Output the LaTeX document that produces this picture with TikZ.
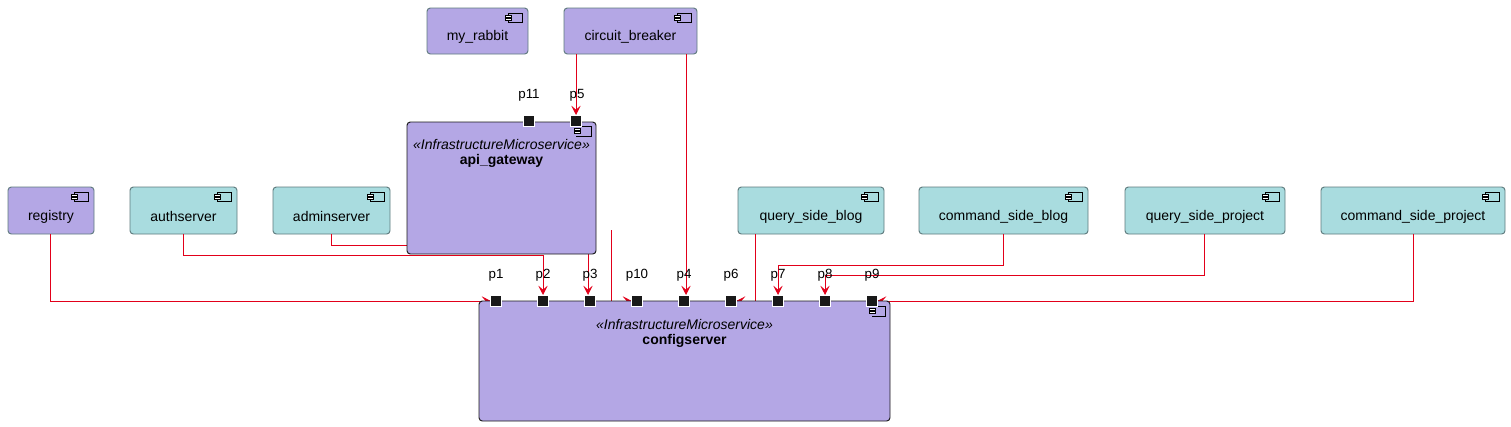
\documentclass[tikz,border=0pt]{standalone}
\usepackage{fontspec}
\setmainfont{Liberation Sans}
\usetikzlibrary{arrows.meta}
\definecolor{purp}{HTML}{B4A7E5}
\definecolor{teal}{HTML}{A9DCDF}
\definecolor{tborder}{HTML}{5E7A7D}
\definecolor{lred}{HTML}{E2001A}
\begin{document}
\begin{tikzpicture}[x=0.75pt,y=-0.75pt,
  comp/.style={draw=tborder,fill=teal,rounded corners=2.5pt,line width=0.7pt},
  pcomp/.style={draw=#1,fill=purp,rounded corners=2.5pt,line width=0.7pt},
  port/.style={fill=black!90,draw=white,line width=0.5pt,minimum size=8.5pt,inner sep=0pt},
  lbl/.style={font=\fontsize{10.5}{12}\selectfont,inner sep=0pt},
  plbl/.style={font=\fontsize{10}{12}\selectfont,inner sep=0pt},
  conn/.style={draw=lred,line width=0.7pt},
  arr/.style={conn,-{Stealth[length=7pt,width=7pt,inset=3pt]}}]
\useasboundingbox (0,0) rectangle (1511,426);
\newcommand\cicon[2]{%
  \draw[line width=0.5pt] (#1-14,#2) rectangle (#1,#2+9);
  \draw[line width=0.5pt,fill=white] (#1-17,#2+2) rectangle (#1-11,#2+4);
  \draw[line width=0.5pt,fill=white] (#1-17,#2+5) rectangle (#1-11,#2+7);}
\newcommand\tbox[6]{% name,x1,y1,x2,y2,text
  \draw[comp] (#2,#3) rectangle (#4,#5);
  \node[lbl] (#1) at ({(#2+#4)/2},{(#3+#5)/2+6}) {#6};
  \cicon{#4-6}{#3+5}}
\newcommand\pbox[6]{%
  \draw[pcomp=tborder] (#2,#3) rectangle (#4,#5);
  \node[lbl] (#1) at ({(#2+#4)/2},{(#3+#5)/2+6}) {#6};
  \cicon{#4-6}{#3+5}}
% top
\pbox{myrabbit}{427}{8}{528}{54}{my\_rabbit}
\pbox{cb}{564}{8}{697}{54}{circuit\_breaker}
\pbox{registry}{8}{187}{94}{234}{registry}
\tbox{auth}{130}{187}{237}{234}{authserver}
\tbox{admin}{273}{187}{390}{234}{adminserver}
\tbox{qsb}{738}{187}{884}{234}{query\_side\_blog}
\tbox{csb}{919}{187}{1088}{234}{command\_side\_blog}
\tbox{qsp}{1125}{187}{1285}{234}{query\_side\_project}
\tbox{csp}{1321}{187}{1505}{234}{command\_side\_project}
% connectors
\coordinate (gwsrc) at (611,230);
\draw[arr] (50,234) |- (491,301);
\draw[arr] (183,234) -- (183,255) -- (543,255) -- (543,295);
\draw[arr] (331,234) -- (331,245) -- (588,245) -- (588,295);
\draw[arr] (gwsrc) |- (632,301);
\draw[arr] (576,54) -- (576,115);
\draw[arr] (686,54) -- (686,295);
\draw[arr] (755,234) |- (736,301);
\draw[arr] (1003,234) -- (1003,265) -- (778,265) -- (778,295);
\draw[arr] (1204,234) -- (1204,275) -- (825,275) -- (825,295);
\draw[arr] (1413,234) |- (877,301);
% api gateway
\draw[pcomp=black!90] (407,122) rectangle (596,254);
\node[lbl,font=\fontsize{10.5}{12}\selectfont\itshape] at (501.5,144) {«InfrastructureMicroservice»};
\node[lbl,font=\fontsize{10.5}{12}\selectfont\bfseries] (gw) at (501.5,161) {api\_gateway};
\draw[line width=0.5pt] (576,126) -- (591,126) -- (591,136) -- (576,136);
\draw[line width=0.5pt,fill=white] (574,128) rectangle (580,130);
\draw[line width=0.5pt,fill=white] (574,131) rectangle (580,133);
\node[port] (p11) at (529,121) {};
\node[port] (p5) at (576,121) {};
\node[plbl] at (529,95) {p11};
\node[plbl] at (577,95) {p5};
% configserver
\draw[pcomp=black!90] (479,301) rectangle (890,421);
\node[lbl,font=\fontsize{10.5}{12}\selectfont\itshape] at (684.5,324) {«InfrastructureMicroservice»};
\node[lbl,font=\fontsize{10.5}{12}\selectfont\bfseries] (cs) at (684.5,341) {configserver};
\draw[line width=0.5pt] (872,306) -- (885,306) -- (885,316) -- (872,316);
\draw[line width=0.5pt,fill=white] (869,308) rectangle (875,310);
\draw[line width=0.5pt,fill=white] (869,311) rectangle (875,313);
\foreach \n/\x in {p1/496,p2/543,p3/590,p10/637,p4/684,p6/731,p7/778,p8/825,p9/872}{
  \node[port] (\n) at (\x,301) {};
  \node[plbl] at (\x,275) {\n};
}
\end{tikzpicture}
\end{document}
